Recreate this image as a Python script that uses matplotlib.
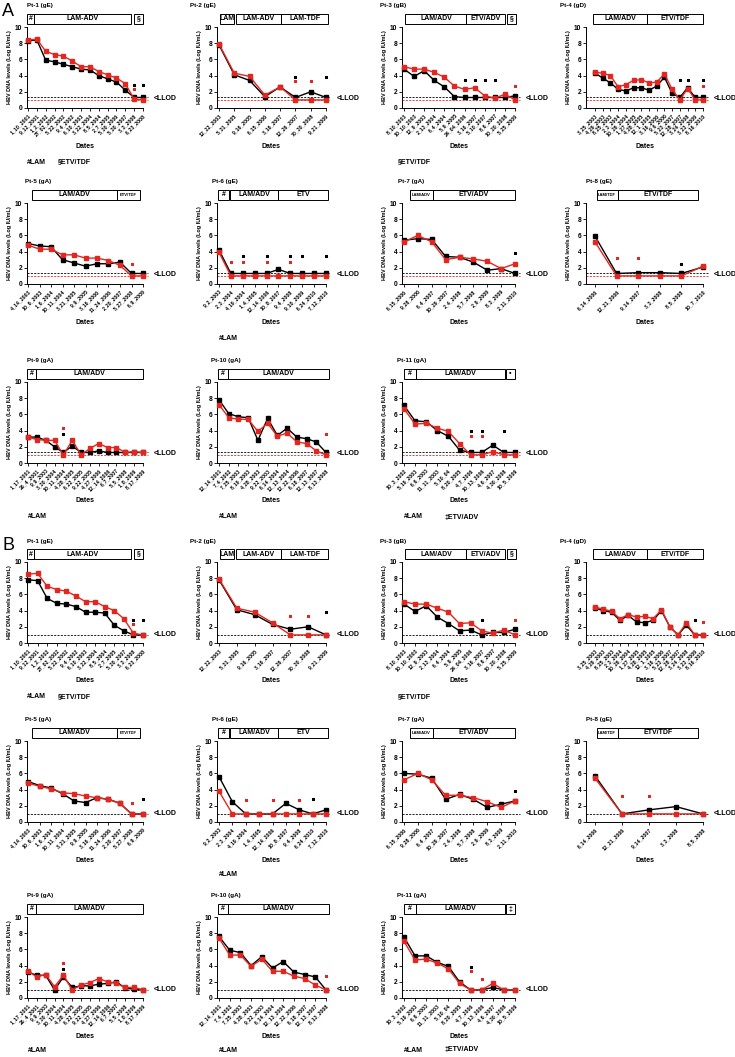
import numpy as np
import matplotlib
matplotlib.use('Agg')
import matplotlib.pyplot as plt
from matplotlib.patches import Rectangle

plt.rcParams['font.family'] = ['Liberation Sans', 'DejaVu Sans']
RED = '#e3261f'
W, H = 735, 1057

titles = ['Pt-1 (gE)', 'Pt-2 (gE)', 'Pt-3 (gB)', 'Pt-4 (gD)', 'Pt-5 (gA)', 'Pt-6 (gE)',
          'Pt-7 (gA)', 'Pt-8 (gE)', 'Pt-9 (gA)', 'Pt-10 (gA)', 'Pt-11 (gA)']

# treatment bars: (start, end, label) as fraction of the x axis
treat = [
    [(0, 0.06, '#'), (0.06, 0.9, 'LAM-ADV'), (0.92, 1.0, '§')],
    [(0.03, 0.16, 'LAM'), (0.17, 0.59, 'LAM-ADV'), (0.59, 1.02, 'LAM-TDF')],
    [(0.03, 0.57, 'LAM/ADV'), (0.57, 0.91, 'ETV/ADV'), (0.93, 1.01, '§')],
    [(0.06, 0.52, 'LAM/ADV'), (0.52, 1.0, 'ETV/TDF')],
    [(0.04, 0.78, 'LAM/ADV'), (0.78, 0.97, 'ETV/TDF')],
    [(0.01, 0.11, '#'), (0.12, 0.56, 'LAM/ADV'), (0.56, 1.02, 'ETV')],
    [(0.07, 0.27, 'LAM/ADV'), (0.27, 1.0, 'ETV/ADV')],
    [(0.09, 0.27, 'LAM/TDF'), (0.27, 0.96, 'ETV/TDF')],
    [(0, 0.08, '#'), (0.08, 1.0, 'LAM/ADV')],
    [(0.01, 0.1, '#'), (0.1, 1.03, 'LAM/ADV')],
    [(0.02, 0.12, '#'), (0.12, 0.91, 'LAM/ADV'), (0.92, 1.0, '•')],
]

# ---- panel A ----
a1_dates = ['1_10_2001', '9_12_2001', '1_2_2002', '27_02_2002', '5_22_2002', '9_4_2002', '6_10_2003',
            '3_22_2004', '8_5_2004', '2_7_2005', '5_30_2006', '5_30_2007', '3_3_2008', '6_23_2008']
a1_black = [8.3, 8.4, 5.9, 5.7, 5.4, 5.1, 4.8, 4.7, 4.0, 3.6, 3.2, 2.2, 1.3, 1.3]
a1_red = [8.4, 8.5, 7.0, 6.6, 6.4, 5.8, 5.1, 5.1, 4.5, 4.1, 3.7, 3.0, 1.1, 1.0]
a1_sk = [(12, 2.8), (13, 2.8)]
a1_sr = [(12, 2.3)]

a2_dates = ['12_22_2003', '5_31_2005', '9_16_2005', '6_15_2006', '3_16_2007', '12_26_2007',
            '70_30_2008', '9_21_2009']
a2_black = [7.8, 4.1, 3.4, 1.4, 2.6, 1.3, 2.0, 1.3]
a2_red = [7.9, 4.3, 3.9, 1.6, 2.6, 1.0, 1.0, 1.0]
a2_sk = [(5, 3.8), (7, 3.8)]
a2_sr = [(5, 3.3), (6, 3.3)]

a3_dates = ['8_10_2003', '10_10_2003', '12_9_2003', '2_13_2004', '6_4_2004', '5_9_2005', '24_04_2006',
            '3_16_2007', '5_10_2007', '8_6_2007', '10_20_2008', '5_25_2009']
a3_black = [4.8, 3.9, 4.6, 3.4, 2.6, 1.4, 1.3, 1.3, 1.3, 1.3, 1.3, 1.5]
a3_red = [5.1, 4.8, 4.8, 4.4, 3.8, 2.7, 2.3, 2.5, 1.5, 1.2, 1.7, 1.0]
a3_sk = [(6, 3.4), (7, 3.4), (8, 3.4), (9, 3.4)]
a3_sr = [(11, 2.7)]

a4_dates = ['3_25_2003', '4_29_2003', '8_25_2003', '2_3_2004', '10_26_2004', '1_27_2005', '4_28_2005',
            '12_1_2005', '3_16_2006', '9_6_2006', '5_23_2007', '12_28_2007', '3_24_2008', '3_23_2009',
            '8_16_2010']
a4_black = [4.3, 3.7, 3.1, 2.3, 2.1, 2.5, 2.5, 2.2, 2.7, 3.8, 1.8, 1.3, 2.5, 1.3, 1.3]
a4_red = [4.4, 4.3, 4.0, 2.6, 2.9, 3.4, 3.5, 3.1, 3.2, 4.2, 2.3, 1.0, 2.4, 1.0, 1.0]
a4_sk = [(11, 3.4), (12, 3.4), (14, 3.4)]
a4_sr = [(14, 2.7)]

a5_dates = ['4_14_2003', '10_6_2003', '1_6_2004', '10_11_2004', '3_21_2005', '9_9_2005', '3_16_2006',
            '11_24_2006', '2_20_2007', '5_27_2008', '6_9_2009']
a5_black = [5.0, 4.7, 4.6, 3.0, 2.6, 2.2, 2.5, 2.5, 2.7, 1.3, 1.3]
a5_red = [4.8, 4.3, 4.3, 3.6, 3.6, 3.2, 3.2, 2.9, 2.3, 1.0, 1.0]
a5_sk = []
a5_sr = [(9, 2.5)]

a6_dates = ['9_2_2003', '2_3_2004', '4_19_2004', '1_4_2005', '12_14_2006', '10_8_2007', '9_4_2008',
            '9_10_2009', '6_24_2010', '7_12_2010']
a6_black = [4.2, 1.3, 1.3, 1.3, 1.3, 1.8, 1.3, 1.3, 1.3, 1.3]
a6_red = [3.9, 1.0, 1.0, 1.0, 1.0, 1.0, 1.0, 1.0, 1.0, 1.0]
a6_sk = [(2, 3.4), (4, 3.4), (6, 3.4), (7, 3.4), (9, 3.4)]
a6_sr = [(1, 2.7), (2, 2.7), (4, 2.7), (6, 2.7)]

a7_dates = ['6_15_2006', '9_28_2006', '6_4_2007', '10_29_2007', '2_4_2008', '5_7_2008', '2_9_2009',
            '8_3_2009', '2_11_2010']
a7_black = [5.4, 5.6, 5.5, 3.4, 3.3, 2.7, 1.7, 1.9, 1.3]
a7_red = [5.2, 6.0, 5.2, 3.0, 3.3, 3.1, 2.8, 1.9, 2.5]
a7_sk = [(8, 3.8)]
a7_sr = []

a8_dates = ['6_14_2006', '12_21_2006', '9_14_2007', '3_3_2008', '8_5_2008', '10_7_2010']
a8_black = [5.9, 1.3, 1.4, 1.4, 1.3, 2.1]
a8_red = [5.2, 1.0, 1.0, 1.0, 1.0, 2.2]
a8_sk = [(4, 2.5)]
a8_sr = [(1, 3.2), (2, 3.2)]

a9_dates = ['1_17_2001', '26_4_2001', '9_9_2003', '3_30_2004', '10_11_2004', '4_28_2005', '6_22_2005',
            '9_22_2005', '4_27_2006', '12_14_2006', '6_7_2007', '5_5_2008', '1_8_2009', '8_17_2009']
a9_black = [3.2, 3.2, 2.8, 2.0, 1.3, 2.1, 1.3, 1.3, 1.5, 1.3, 1.3, 1.3, 1.3, 1.3]
a9_red = [3.2, 2.9, 2.8, 2.8, 1.0, 2.8, 1.0, 1.8, 2.4, 1.9, 1.9, 1.3, 1.4, 1.3]
a9_sk = [(4, 3.6)]
a9_sr = [(4, 4.3)]

a10_dates = ['12_14_2001', '7_4_2002', '7_25_2003', '8_19_2003', '4_28_2003', '9_22_2003', '6_14_2004',
             '12_13_2004', '12_22_2006', '6_18_2007', '12_13_2007', '8_13_2008']
a10_black = [7.8, 6.1, 5.7, 5.6, 2.8, 5.5, 3.4, 4.3, 3.2, 3.0, 2.6, 1.3]
a10_red = [7.2, 5.6, 5.4, 5.4, 3.9, 4.9, 3.3, 3.7, 2.6, 2.4, 1.5, 1.0]
a10_sk = []
a10_sr = [(11, 3.6)]

a11_dates = ['10_3_2002', '5_19_2003', '6_6_2003', '11_11_2003', '5_10_04', '8_20_2005', '4_7_2006',
             '10_13_2006', '4_6_2007', '4_30_2008', '10_5_2009']
a11_black = [7.1, 5.2, 5.1, 4.0, 3.3, 1.6, 1.3, 1.3, 2.2, 1.3, 1.3]
a11_red = [6.7, 4.8, 4.9, 4.3, 3.9, 2.4, 1.0, 1.0, 1.4, 1.0, 1.0]
a11_sk = [(6, 3.9), (7, 3.9), (9, 3.9)]
a11_sr = [(6, 3.3), (7, 3.3)]

# ---- panel B ----
b1_dates = ['1_10_2001', '9_12_2001', '1_2_2002', '27_02_2002', '5_22_2002', '9_4_2002', '6_10_2003',
            '3_22_2004', '8_5_2004', '2_7_2005', '5_30_2007', '3_3_2008', '6_23_2008']
b1_black = [7.8, 7.7, 5.5, 4.9, 4.8, 4.5, 3.8, 3.8, 3.7, 2.2, 1.5, 1.0, 1.0]
b1_red = [8.5, 8.6, 7.0, 6.6, 6.4, 5.8, 5.1, 5.1, 4.5, 4.0, 3.0, 1.2, 1.0]
b1_sk = [(11, 2.8), (12, 2.8)]
b1_sr = [(11, 2.3)]

b2_dates = ['12_22_2003', '5_31_2005', '9_16_2005', '3_16_2007', '12_26_2007', '70_30_2008', '9_21_2009']
b2_black = [7.8, 4.1, 3.5, 2.3, 1.7, 2.0, 1.0]
b2_red = [7.9, 4.3, 3.8, 2.5, 1.0, 1.0, 1.0]
b2_sk = [(6, 3.8)]
b2_sr = [(4, 3.3), (5, 3.3)]

b3_dates = ['8_10_2003', '10_10_2003', '12_9_2003', '2_13_2004', '6_4_2004', '5_9_2005', '24_04_2006',
            '3_16_2007', '8_6_2007', '10_20_2008', '5_25_2009']
b3_black = [4.8, 3.9, 4.6, 3.2, 2.4, 1.5, 1.6, 1.0, 1.3, 1.3, 1.7]
b3_red = [5.1, 4.8, 4.8, 4.3, 3.8, 2.4, 2.5, 1.5, 1.2, 1.6, 1.0]
b3_sk = [(7, 2.8)]
b3_sr = [(10, 2.8)]

b4_dates = ['3_25_2003', '4_29_2003', '8_25_2003', '2_3_2004', '10_26_2004', '1_27_2005', '4_28_2005',
            '12_1_2005', '3_16_2006', '5_23_2007', '12_28_2007', '3_24_2008', '3_23_2009', '8_16_2010']
b4_black = [4.3, 4.0, 3.8, 2.8, 3.4, 2.6, 2.5, 2.8, 4.0, 2.0, 1.0, 2.2, 1.0, 1.0]
b4_red = [4.4, 4.2, 3.9, 3.0, 3.5, 3.2, 3.3, 3.0, 4.1, 2.0, 1.0, 2.5, 1.0, 1.0]
b4_sk = [(12, 2.8)]
b4_sr = [(13, 2.6)]

b5_dates = a5_dates
b5_black = [5.0, 4.5, 4.2, 3.5, 2.6, 2.4, 3.0, 2.8, 2.3, 1.0, 1.0]
b5_red = [4.8, 4.4, 4.1, 3.6, 3.5, 3.2, 3.0, 2.8, 2.3, 1.0, 1.0]
b5_sk = [(10, 2.8)]
b5_sr = [(9, 2.4)]

b6_dates = ['9_2_2003', '2_3_2004', '4_19_2004', '1_4_2005', '12_14_2006', '10_8_2007', '9_4_2008',
            '6_24_2010', '7_12_2010']
b6_black = [5.6, 2.5, 1.0, 1.0, 1.0, 2.3, 1.5, 1.0, 1.5]
b6_red = [3.8, 1.0, 1.0, 1.0, 1.0, 1.0, 1.0, 1.0, 1.0]
b6_sk = [(7, 2.8)]
b6_sr = [(2, 2.7), (4, 2.7), (6, 2.7)]

b7_dates = a7_dates
b7_black = [6.0, 5.9, 5.4, 2.8, 3.4, 2.8, 1.8, 2.2, 2.6]
b7_red = [5.2, 6.0, 5.2, 3.3, 3.3, 3.0, 2.5, 1.8, 2.6]
b7_sk = [(8, 3.8)]
b7_sr = []

b8_dates = ['6_14_2006', '12_21_2006', '9_14_2007', '3_3_2008', '8_5_2008']
b8_black = [5.7, 1.0, 1.5, 1.9, 1.0]
b8_red = [5.4, 1.0, 1.0, 1.0, 1.0]
b8_sk = []
b8_sr = [(1, 3.2), (2, 3.2)]

b9_dates = a9_dates
b9_black = [3.2, 2.8, 2.8, 1.0, 2.6, 1.3, 1.5, 1.5, 1.7, 1.8, 2.0, 1.2, 1.1, 1.0]
b9_red = [3.3, 2.6, 2.9, 1.4, 2.8, 1.0, 1.6, 1.9, 2.4, 2.0, 1.8, 1.3, 1.3, 1.0]
b9_sk = [(4, 3.6)]
b9_sr = [(4, 4.3)]

b10_dates = ['12_14_2001', '7_4_2002', '7_25_2003', '4_28_2003', '9_22_2003', '6_14_2004', '12_13_2004',
             '12_22_2006', '6_18_2007', '12_13_2007', '8_13_2008']
b10_black = [7.6, 5.9, 5.6, 4.0, 5.1, 3.7, 4.5, 3.2, 2.9, 2.6, 1.0]
b10_red = [7.4, 5.3, 5.3, 3.9, 4.8, 3.3, 3.3, 2.7, 2.4, 1.6, 1.0]
b10_sk = []
b10_sr = [(10, 2.7)]

b11_dates = a11_dates
b11_black = [7.5, 5.2, 5.2, 4.4, 3.9, 2.0, 1.0, 1.0, 1.3, 1.0, 1.0]
b11_red = [7.0, 4.7, 4.8, 4.3, 3.6, 1.8, 1.0, 1.0, 1.8, 1.0, 1.0]
b11_sk = [(6, 3.8)]
b11_sr = [(6, 3.3), (7, 2.3)]

panel_a = [(a1_dates, a1_black, a1_red, a1_sk, a1_sr), (a2_dates, a2_black, a2_red, a2_sk, a2_sr),
           (a3_dates, a3_black, a3_red, a3_sk, a3_sr), (a4_dates, a4_black, a4_red, a4_sk, a4_sr),
           (a5_dates, a5_black, a5_red, a5_sk, a5_sr), (a6_dates, a6_black, a6_red, a6_sk, a6_sr),
           (a7_dates, a7_black, a7_red, a7_sk, a7_sr), (a8_dates, a8_black, a8_red, a8_sk, a8_sr),
           (a9_dates, a9_black, a9_red, a9_sk, a9_sr), (a10_dates, a10_black, a10_red, a10_sk, a10_sr),
           (a11_dates, a11_black, a11_red, a11_sk, a11_sr)]
panel_b = [(b1_dates, b1_black, b1_red, b1_sk, b1_sr), (b2_dates, b2_black, b2_red, b2_sk, b2_sr),
           (b3_dates, b3_black, b3_red, b3_sk, b3_sr), (b4_dates, b4_black, b4_red, b4_sk, b4_sr),
           (b5_dates, b5_black, b5_red, b5_sk, b5_sr), (b6_dates, b6_black, b6_red, b6_sk, b6_sr),
           (b7_dates, b7_black, b7_red, b7_sk, b7_sr), (b8_dates, b8_black, b8_red, b8_sk, b8_sr),
           (b9_dates, b9_black, b9_red, b9_sk, b9_sr), (b10_dates, b10_black, b10_red, b10_sk, b10_sr),
           (b11_dates, b11_black, b11_red, b11_sk, b11_sr)]

# layout in pixels: (spine left, first point, last point) per column
cols = [(27, 28, 143), (217, 219, 326), (402, 404, 515), (586, 595, 703)]
row_tops = [[27, 203, 382], [562, 741, 917]]
title_dx = [0, -27, -22, -26, -2, -5, -4, 0, 0, -6, -5]
AXH = 81

fig = plt.figure(figsize=(W / 100, H / 100), dpi=100)


def draw(k, top, data, panel_b_style):
    dates, black, red, sk, sr = data
    col = k % 4
    sl, first, last = cols[col]
    width = last - sl
    ax = fig.add_axes([sl / W, 1 - (top + AXH) / H, width / W, AXH / H])
    n = len(dates)
    step = (last - first) / (n - 1)
    x = np.arange(n)
    ax.set_xlim(-(first - sl) / step, n - 1)
    ax.set_ylim(0, 10)

    if panel_b_style:
        ax.axhline(1.0, xmin=0, xmax=1.04, color='k', ls=(0, (2.5, 1.5)), lw=0.6, clip_on=False)
        llod_y = 1.0
    else:
        ax.axhline(1.3, xmin=0, xmax=1.04, color='k', ls=(0, (2.5, 1.5)), lw=0.6, clip_on=False)
        ax.axhline(1.0, xmin=0, xmax=1.04, color=RED, ls=(0, (2.5, 1.5)), lw=0.6, clip_on=False)
        llod_y = 1.2
    ax.annotate('<LLOD', xy=(1, llod_y), xycoords=('axes fraction', 'data'), xytext=(7.5, 0),
                textcoords='offset points', fontsize=5, fontweight='bold', va='center', ha='left')

    ax.plot(x, black, color='k', lw=1.0, marker='s', ms=2.6, clip_on=False, zorder=3)
    ax.plot(x, red, color=RED, lw=1.0, marker='s', ms=2.6, clip_on=False, zorder=4)
    if sk:
        ax.plot([p[0] for p in sk], [p[1] for p in sk], ls='none', marker=(6, 2, 0), ms=2.2,
                mew=0.8, color='k', clip_on=False)
    if sr:
        ax.plot([p[0] for p in sr], [p[1] for p in sr], ls='none', marker=(6, 2, 0), ms=2.2,
                mew=0.8, color=RED, clip_on=False)

    ax.set_xticks(x)
    ax.set_xticklabels(dates, rotation=45, ha='right', rotation_mode='anchor',
                       fontsize=3.7, fontweight='bold')
    ax.set_yticks(range(0, 11, 2))
    ax.tick_params(axis='y', labelsize=4.8, length=2, width=0.6, pad=1.5)
    ax.tick_params(axis='x', length=2, width=0.6, pad=1.5)
    for t in ax.get_yticklabels():
        t.set_fontweight('bold')
    for s in ['top', 'right']:
        ax.spines[s].set_visible(False)
    for s in ['left', 'bottom']:
        ax.spines[s].set_linewidth(0.7)
    ax.set_ylabel('HBV DNA levels (Log IU/mL)', fontsize=4, fontweight='bold', labelpad=2)
    ax.text(0.5, -38 / AXH, 'Dates', transform=ax.transAxes, ha='center', va='center',
            fontsize=5, fontweight='bold')

    # title and treatment bar
    ax.text(title_dx[k] / width, 1 + 21 / AXH, titles[k], transform=ax.transAxes, ha='left',
            va='center', fontsize=4.5, fontweight='bold')
    y0 = 1 + 3 / AXH
    bh = 10 / AXH
    for (s0, s1, lab) in treat[k]:
        if panel_b_style and lab == '•':
            lab = '‡'
        ax.add_patch(Rectangle((s0, y0), s1 - s0, bh, transform=ax.transAxes, fill=False,
                               lw=0.7, ec='k', clip_on=False))
        fs = 3 if (s1 - s0) * width < 30 and len(lab) > 3 else 5
        ax.text((s0 + s1) / 2, y0 + bh / 2, lab, transform=ax.transAxes, ha='center',
                va='center', fontsize=fs, fontweight='bold')
    return ax


for p, data_list in enumerate([panel_a, panel_b]):
    for k, data in enumerate(data_list):
        top = row_tops[p][k // 4]
        draw(k, top, data, p == 1)

fig.text(2 / W, 1 - 12 / H, 'A', fontsize=13, va='center', ha='left')
fig.text(2 / W, 1 - 545 / H, 'B', fontsize=13, va='center', ha='left')

# footnotes (pixel positions)
notes = [(27, 162, '#LAM'), (58, 162, '§ETV/TDF'), (398, 162, '§ETV/TDF'), (219, 339, '#LAM'),
         (28, 517, '#LAM'), (219, 517, '#LAM'), (404, 517, '#LAM'), (445, 517, '‡ETV/ADV'),
         (27, 697, '#LAM'), (58, 697, '§ETV/TDF'), (398, 697, '§ETV/TDF'), (219, 875, '#LAM'),
         (28, 1050, '#LAM'), (219, 1050, '#LAM'), (404, 1050, '#LAM'), (445, 1050, '‡ETV/ADV')]
for nx, ny, txt in notes:
    fig.text(nx / W, 1 - ny / H, txt, fontsize=5, fontweight='bold', va='center', ha='left')

fig.savefig('out.png', dpi=100)
